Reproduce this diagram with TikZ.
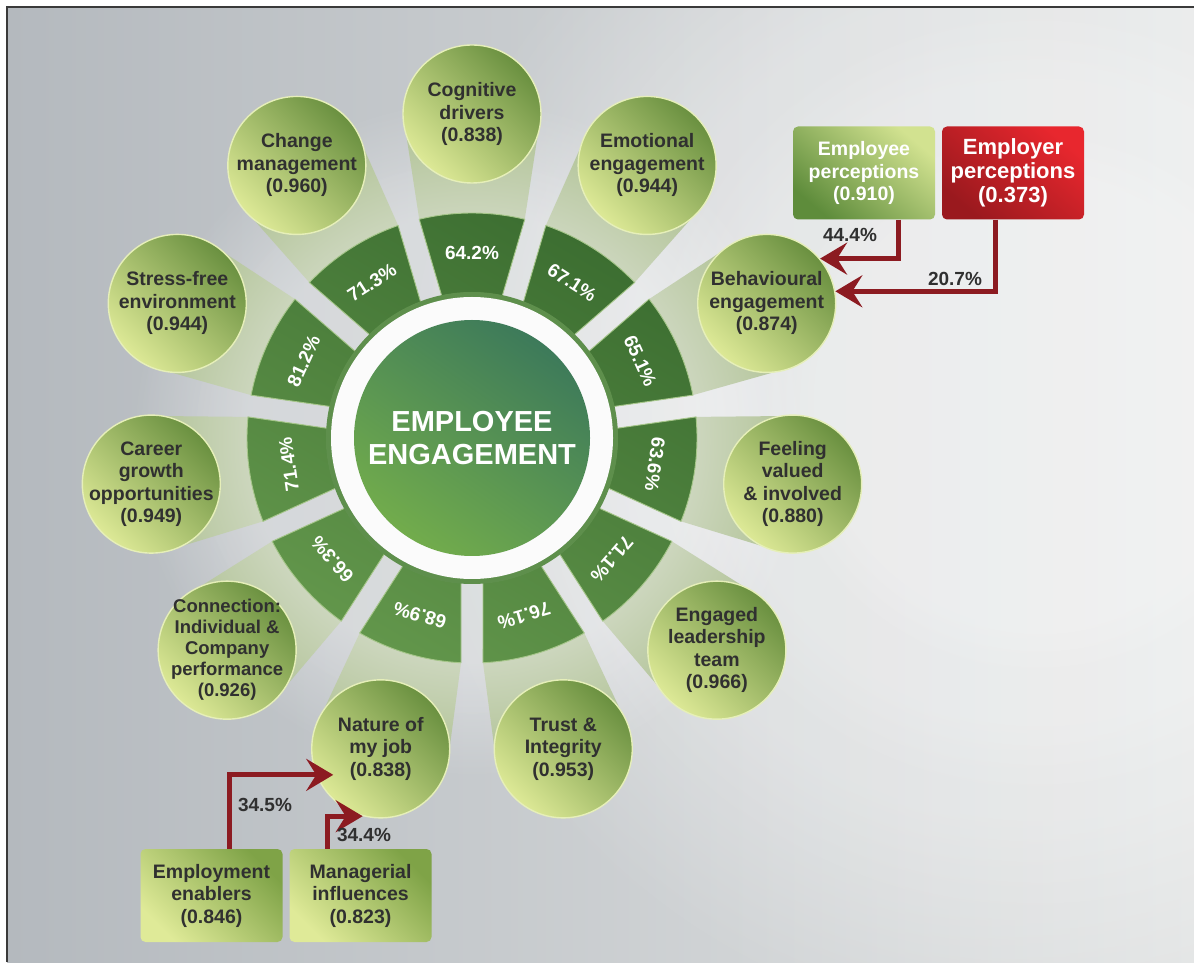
\documentclass[tikz,border=0pt]{standalone}
\usepackage{fontspec}
\setmainfont{Liberation Sans}
\usetikzlibrary{arrows.meta,fadings}
\definecolor{bgL}{HTML}{B4B9BE}
\definecolor{bgR}{HTML}{E2E4E4}
\definecolor{frm}{HTML}{3A3A3A}
\definecolor{segD}{HTML}{3C6E31}
\definecolor{segL}{HTML}{62964B}
\definecolor{segRim}{HTML}{A6C68A}
\definecolor{bmA}{HTML}{CCD6BD}
\definecolor{bmB}{HTML}{B0C295}
\definecolor{cirD}{HTML}{6A9040}
\definecolor{cirL}{HTML}{DDE996}
\definecolor{cirRim}{HTML}{E6EFB9}
\definecolor{inD}{HTML}{3D7A5A}
\definecolor{inL}{HTML}{72AC4C}
\definecolor{rimG}{HTML}{5E8F4C}
\definecolor{ebL}{HTML}{D2E290}
\definecolor{ebD}{HTML}{5E8C3B}
\definecolor{rbL}{HTML}{E8272E}
\definecolor{rbD}{HTML}{9A191E}
\definecolor{gbD}{HTML}{7FA347}
\definecolor{gbL}{HTML}{DFEA98}
\definecolor{arr}{HTML}{8C1B21}
\definecolor{txt}{HTML}{303030}
\pgfdeclareradialshading{beamsh}{\pgfpointorigin}{color(0bp)=(bmA); color(17bp)=(bmA); color(25bp)=(bmB); color(50bp)=(bmB)}
\begin{document}
\begin{tikzpicture}[x=1pt,y=1pt,
  ocirc/.style={circle, minimum size=138pt, inner sep=0pt, draw=cirRim, line width=1.4pt,
    top color=cirD, bottom color=cirL, shading angle=-45},
  otext/.style={align=center, text=txt, inner sep=0pt,
    font=\fontsize{19.5}{22.5}\selectfont\bfseries},
  otextsm/.style={align=center, text=txt, inner sep=0pt,
    font=\fontsize{18.5}{21}\selectfont\bfseries},
  pct/.style={text=white, inner sep=0pt, font=\fontsize{19}{22}\selectfont\bfseries},
  ctext/.style={align=center, text=white, inner sep=0pt, font=\fontsize{29}{33}\selectfont\bfseries},
  boxbase/.style={rectangle, minimum width=142pt, minimum height=93pt, inner sep=0pt,
    rounded corners=5pt, align=center},
  ebox/.style={boxbase, top color=ebL, bottom color=ebD, shading angle=-40, text=white,
    font=\fontsize{19.5}{22.5}\selectfont\bfseries},
  rbox/.style={boxbase, top color=rbL, bottom color=rbD, shading angle=-40, text=white,
    font=\fontsize{22}{24}\selectfont\bfseries},
  gbox/.style={boxbase, top color=gbD, bottom color=gbL, shading angle=-45, text=txt,
    font=\fontsize{19.5}{22.5}\selectfont\bfseries},
  rarrow/.style={draw=arr, line width=5pt, line join=miter,
    -{Stealth[length=27pt, width=32pt, inset=10pt]}},
  plabel/.style={text=txt, inner sep=0pt, font=\fontsize{19}{22}\selectfont\bfseries},
  glow/.style={white, path fading=circle with fuzzy edge 20 percent}
]
% background
\useasboundingbox (0,0) rectangle (1194,962);
\fill[white] (0,0) rectangle (1194,962);
\shade[left color=bgL, right color=bgR] (7,0) rectangle (1194,955);
\begin{scope}
\clip (7,0) rectangle (1194,955);
\fill[glow, opacity=0.18] (1040,560) circle (640);
\fill[glow, opacity=0.18] (1040,560) circle (520);
\fill[glow, opacity=0.18] (1040,560) circle (400);
\fill[glow, opacity=0.18] (1040,560) circle (280);
\end{scope}
\draw[frm, line width=1.6pt] (7,0) -- (7,955) -- (1194,955);

\coordinate (C) at (472,524);
\begin{scope}[shift={(472,524)}]
% light glow behind spokes
\fill[glow, opacity=0.2] (0,0) circle (340);
\fill[glow, opacity=0.2] (0,0) circle (280);
% beams
\shade[shading=beamsh] \foreach \k in {0,...,10}{
  ({90-32.72727*\k+13.562}:225) -- ({90-32.72727*\k+12.02}:331.3)
  -- ({90-32.72727*\k-12.02}:331.3) -- ({90-32.72727*\k-13.562}:225)
  arc[start angle={90-32.72727*\k-13.562}, delta angle=27.124, radius=225] -- cycle};
% segments
\path[draw=segRim, line width=0.9pt, top color=segD, bottom color=segL, shading angle=-30]
  \foreach \k in {0,...,10}{
  ({90-32.72727*\k+13.562}:225)
  arc[start angle={90-32.72727*\k+13.562}, delta angle=-27.124, radius=225]
  -- ({90-32.72727*\k-12.013}:145)
  arc[start angle={90-32.72727*\k-12.013}, delta angle=24.026, radius=145] -- cycle};
% percentages
\foreach \k/\p in {0/64.2,1/67.1,2/65.1,3/63.6,4/71.1,5/76.1,6/68.9,7/66.3,8/71.4,9/81.2,10/71.3}
  \node[pct, rotate={-32.72727*\k}] (p\k) at ({90-32.72727*\k}:185) {\p\%};
% centre
\fill[rimG] (0,0) circle (146);
\fill[white!97!gray] (0,0) circle (141);
\node[circle, minimum size=236pt, inner sep=0pt, top color=inD, bottom color=inL, shading angle=-35] (core) at (0,0) {};
\node[ctext] (coretext) at (core.center) {EMPLOYEE\\ENGAGEMENT};
% outer circles
\foreach \k/\nm/\st/\tx in {
 0/cog/otext/{Cognitive\\drivers\\(0.838)},
 1/emo/otext/{Emotional\\engagement\\(0.944)},
 2/beh/otext/{Behavioural\\engagement\\(0.874)},
 3/feel/otext/{Feeling\\valued\\\& involved\\(0.880)},
 4/lead/otext/{Engaged\\leadership\\team\\(0.966)},
 5/trust/otext/{Trust \&\\Integrity\\(0.953)},
 6/nat/otext/{Nature of\\my job\\(0.838)},
 7/conn/otextsm/{Connection:\\Individual \&\\Company\\performance\\(0.926)},
 8/car/otext/{Career\\growth\\opportunities\\(0.949)},
 9/stress/otext/{Stress-free\\environment\\(0.944)},
 10/chg/otext/{Change\\management\\(0.960)}}
{
 \node[ocirc] (\nm) at ({90-32.72727*\k}:324) {};
 \node[\st] (\nm-t) at (\nm.center) {\tx};
}
\end{scope}

% boxes
\node[ebox] (emp) at (864,789) {Employee\\perceptions\\(0.910)};
\node[rbox] (empr) at (1013,789) {Employer\\perceptions\\(0.373)};
\node[gbox] (ena) at (211.5,66.5) {Employment\\enablers\\(0.846)};
\node[gbox] (mgr) at (360.5,66.5) {Managerial\\influences\\(0.823)};

% arrows
\draw[rarrow] ([xshift=34pt]emp.south) |- (beh.40);
\draw[rarrow] ([xshift=-18pt]empr.south) |- (beh.10);
\coordinate (nt1) at ([shift={(-47.5,-26)}]nat.center);
\draw[rarrow] ([xshift=17.5pt]ena.north) |- (nt1);
\draw[rarrow] ([xshift=-33.5pt]mgr.north) |- (nat.-105);

% labels
\node[plabel] (l1) at (850,727) {44.4\%};
\node[plabel] (l2) at (955,683) {20.7\%};
\node[plabel] (l3) at (265,157) {34.5\%};
\node[plabel] (l4) at (364,127) {34.4\%};
\end{tikzpicture}
\end{document}
